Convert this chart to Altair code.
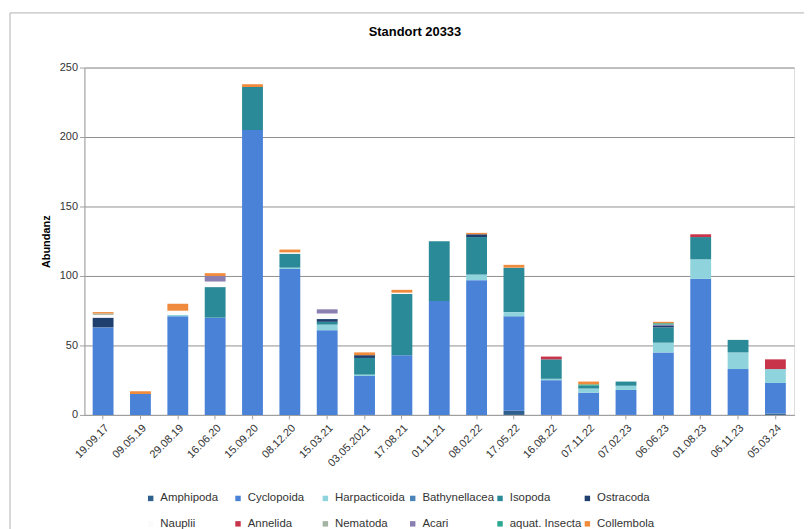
import altair as alt
import pandas as pd

dates = ["19.09.17", "09.05.19", "29.08.19", "16.06.20", "15.09.20", "08.12.20",
         "15.03.21", "03.05.2021", "17.08.21", "01.11.21", "08.02.22", "17.05.22",
         "16.08.22", "07.11.22", "07.02.23", "06.06.23", "01.08.23", "06.11.23",
         "05.03.24"]

taxa = ["Amphipoda", "Cyclopoida", "Harpacticoida", "Bathynellacea", "Isopoda",
        "Ostracoda", "Nauplii", "Annelida", "Nematoda", "Acari", "aquat. Insecta",
        "Collembola"]

amphipoda     = [0, 0, 0, 0, 0, 0, 0, 0, 0, 0, 0, 3, 0, 0, 0, 0, 0, 0, 1]
cyclopoida    = [63, 15, 71, 70, 205, 105, 61, 28, 43, 82, 97, 68, 25, 16, 18, 45, 98, 33, 22]
harpacticoida = [0, 0, 1, 0, 0, 1, 4, 1, 0, 0, 4, 3, 1, 3, 3, 7, 14, 12, 10]
bathynellacea = [0, 0, 0, 0, 0, 0, 0, 0, 0, 0, 0, 0, 0, 0, 0, 0, 0, 0, 0]
isopoda       = [0, 0, 0, 22, 31, 10, 2, 12, 44, 43, 27, 32, 14, 2, 3, 11, 16, 9, 0]
ostracoda     = [7, 0, 0, 0, 0, 0, 2, 2, 0, 0, 2, 0, 0, 0, 0, 1, 0, 0, 0]
nauplii       = [2, 0, 3, 4, 0, 1, 4, 0, 1, 0, 0, 0, 0, 0, 0, 0, 0, 0, 0]
annelida      = [0, 0, 0, 0, 0, 0, 0, 0, 0, 0, 0, 0, 2, 0, 0, 0, 2, 0, 7]
nematoda      = [1, 0, 0, 0, 0, 0, 0, 0, 0, 0, 0, 0, 0, 0, 0, 0, 0, 0, 0]
acari         = [0, 0, 0, 4, 0, 0, 3, 0, 0, 0, 0, 0, 0, 0, 0, 1, 0, 0, 0]
aquat_insecta = [0, 0, 0, 0, 0, 0, 0, 0, 0, 0, 0, 0, 0, 1, 0, 1, 0, 0, 0]
collembola    = [1, 2, 5, 2, 2, 2, 0, 2, 2, 0, 1, 2, 0, 2, 0, 1, 0, 0, 0]

series = [amphipoda, cyclopoida, harpacticoida, bathynellacea, isopoda, ostracoda,
          nauplii, annelida, nematoda, acari, aquat_insecta, collembola]

colors = ["#2f5f8c", "#4a82d8", "#8fd3dc", "#4b84b8", "#2b8a98", "#1f3f6e",
          "#fbfbfb", "#c8344a", "#a3b3a3", "#8a7fb0", "#2aa890", "#f08a3c"]

title_text = "Standort  20333"

rows = []
for ti, (name, vals) in enumerate(zip(taxa, series)):
    for d, v in zip(dates, vals):
        if v > 0:
            rows.append({"Datum": d, "Taxon": name, "Abundanz": v, "idx": ti})
df = pd.DataFrame(rows)

FONT = "Liberation Sans"
W, H = 715, 350

bars = alt.Chart(df).mark_bar(size=21).encode(
    x=alt.X("Datum:N", sort=dates, title=None,
            axis=alt.Axis(labelAngle=-45, labelFontSize=11, labelColor="#333333",
                          labelFont=FONT, domainColor="#a0a0a0", tickColor="#a0a0a0",
                          tickSize=4, labelPadding=3)),
    y=alt.Y("Abundanz:Q", stack="zero",
            scale=alt.Scale(domain=[0, 250]),
            axis=alt.Axis(values=[0, 50, 100, 150, 200, 250], title="Abundanz",
                          titleFont=FONT, titleFontSize=11, titleFontWeight="bold",
                          titleColor="#000000", titlePadding=8,
                          labelFont=FONT, labelFontSize=11, labelColor="#333333",
                          domainColor="#a0a0a0", tickColor="#a0a0a0", tickSize=5,
                          gridColor="#8f8f8f", gridWidth=1)),
    color=alt.Color("Taxon:N",
                    scale=alt.Scale(domain=taxa, range=colors),
                    legend=alt.Legend(title=None, orient="none", legendX=61, legendY=428,
                                      direction="horizontal", gridAlign="all",
                                      columns=6, symbolType="square", symbolSize=30,
                                      labelFont=FONT, labelFontSize=11.5,
                                      labelColor="#333333", columnPadding=0,
                                      rowPadding=13, symbolStrokeWidth=0)),
    order=alt.Order("idx:Q", sort="ascending"),
)

border = alt.Chart(pd.DataFrame({"a": [0]})).mark_rect(
    fill=None, stroke="#b0b0b0", strokeWidth=1
).encode(x=alt.value(-75), x2=alt.value(W + 40), y=alt.value(-55), y2=alt.value(H + 200))

title = alt.Chart(pd.DataFrame({"t": [title_text]})).mark_text(
    font=FONT, fontSize=13, fontWeight="bold", color="#000000", align="center",
    baseline="middle"
).encode(text="t:N", x=alt.value(333), y=alt.value(-36))

chart = alt.layer(border, bars, title).properties(
    width=W, height=H,
    autosize=alt.AutoSizeParams(type="none"),
    padding={"left": 77, "top": 58, "right": 10, "bottom": 120},
).configure_view(stroke=None).configure(background="white")

chart.save("out.html", embed_options={"renderer": "svg", "actions": False})
